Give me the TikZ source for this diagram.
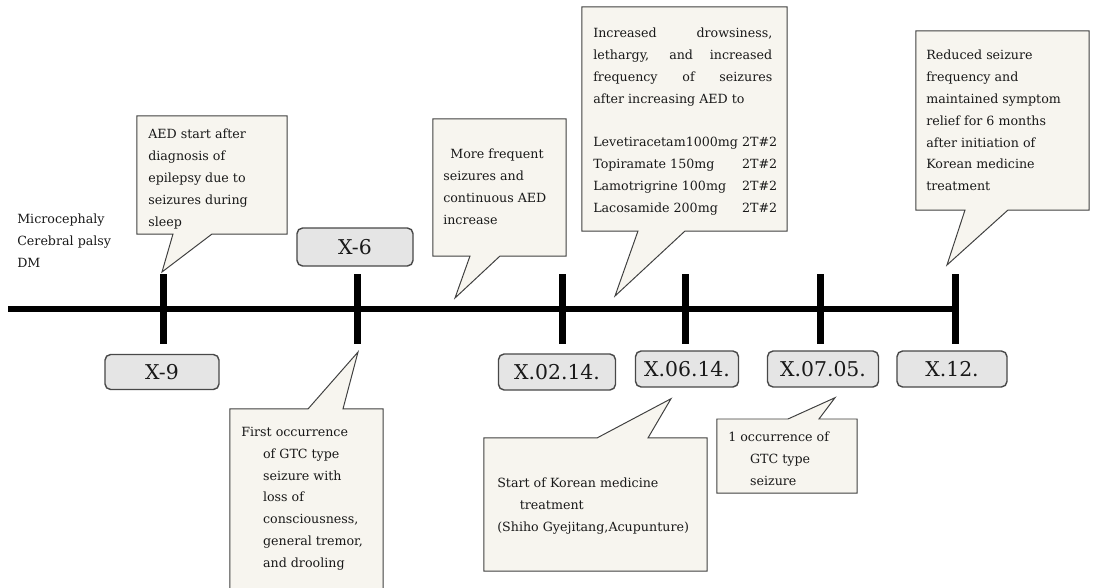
\documentclass[tikz,border=0pt]{standalone}
\usepackage{fontspec}
\setmainfont{DejaVu Serif}
\usetikzlibrary{calc}
\definecolor{notefill}{RGB}{247,245,239}
\definecolor{noteline}{RGB}{64,64,64}
\definecolor{datefill}{RGB}{229,229,229}
\definecolor{dateline}{RGB}{72,72,72}
\definecolor{ink}{RGB}{25,25,25}
\newcommand{\shiftin}{\hspace*{15.5pt}}

\begin{document}
\begin{tikzpicture}[x=0.025cm,y=-0.025cm,
  tickmark/.style={fill=black,inner sep=0pt,outer sep=0pt,minimum width=0.175cm,minimum height=1.75cm},
  datebox/.style={draw=dateline,fill=datefill,rounded corners=4pt,line width=1pt,inner sep=0pt,text=ink,font=\fontsize{14.5}{16}\selectfont},
  calloutarea/.style={inner sep=0pt,outer sep=0pt},
  notebox/.style={draw=noteline,fill=notefill,line width=0.7pt},
  notetext/.style={anchor=north west,align=left,inner sep=0pt,text=ink,font=\fontsize{9}{15.5}\selectfont}]
  \useasboundingbox (0,0) rectangle (1094,587);
  % time axis
  \node[tickmark] (t1) at (163,309) {};
  \node[tickmark] (t2) at (357,309) {};
  \node[tickmark] (t3) at (562,309) {};
  \node[tickmark] (t4) at (685,309) {};
  \node[tickmark] (t5) at (820,309) {};
  \node[tickmark] (t6) at (955,309) {};
  \coordinate (axstart) at (8,309);
  \draw[line width=4.3pt] (axstart) -- (t6.east);
  % dates
  \node[datebox,minimum width=2.85cm,minimum height=0.875cm] (d1) at (162,372) {X-9};
  \node[datebox,minimum width=2.9cm,minimum height=0.95cm] (d2) at (355,247) {X-6};
  \node[datebox,minimum width=2.925cm,minimum height=0.9cm] (d3) at (557,372) {X.02.14.};
  \node[datebox,minimum width=2.575cm,minimum height=0.9cm] (d4) at (687,369) {X.06.14.};
  \node[datebox,minimum width=2.775cm,minimum height=0.9cm] (d5) at (823,369) {X.07.05.};
  \node[datebox,minimum width=2.75cm,minimum height=0.9cm] (d6) at (952,369) {X.12.};
  % callout areas
  \node[calloutarea,minimum width=3.75cm,minimum height=2.95cm] (c1) at (212,175) {};
  \node[calloutarea,minimum width=3.325cm,minimum height=3.425cm] (c2) at (499.5,187.5) {};
  \node[calloutarea,minimum width=5.125cm,minimum height=5.6cm] (c3) at (684.5,119) {};
  \node[calloutarea,minimum width=4.325cm,minimum height=4.475cm] (c4) at (1002.5,120.5) {};
  \node[calloutarea,minimum width=3.825cm,minimum height=4.775cm] (c5) at (306.5,504.5) {};
  \node[calloutarea,minimum width=5.575cm,minimum height=3.325cm] (c6) at (595.5,504.5) {};
  \node[calloutarea,minimum width=3.5cm,minimum height=1.85cm] (c7) at (787,456) {};
  \coordinate (tp1) at ($(t1.north)+(-1,-2)$);
  \coordinate (tp2) at (455,298);
  \coordinate (tp3) at (615,296);
  \coordinate (tp4) at ($(t6.north)+(-8,-9)$);
  \coordinate (tp5) at ($(t2.south)+(1,8)$);
  \coordinate (tp6) at ($(d4.south)+(-16,11)$);
  \coordinate (tp7) at ($(d5.south)+(12,10)$);
  \foreach \nd/\lft/\rgt/\tip in {c1/36/75/tp1,c2/37/67/tp2,c3/56/103/tp3,c4/49/92/tp4}{
    \draw[notebox] (\nd.north west) -- (\nd.north east) -- (\nd.south east) -- ($(\nd.south west)+(\rgt,0)$)
      -- (\tip) -- ($(\nd.south west)+(\lft,0)$) -- (\nd.south west) -- cycle;}
  \foreach \nd/\lft/\rgt/\tip in {c5/78/113/tp5,c6/113/164/tp6,c7/71/102/tp7}{
    \draw[notebox] (\nd.south west) -- (\nd.north west) -- ($(\nd.north west)+(\lft,0)$) -- (\tip)
      -- ($(\nd.north west)+(\rgt,0)$) -- (\nd.north east) -- (\nd.south east) -- cycle;}
  % texts
  \node[notetext] (info) at (17,214) {Microcephaly\\Cerebral palsy\\DM};
  \node[notetext] (ct1) at (148,129) {AED start after\\diagnosis of\\epilepsy due to\\seizures during\\sleep};
  \node[notetext] (ct2) at (443,149) {\hspace*{5pt}More frequent\\seizures and\\continuous AED\\increase};
  \node[notetext] (ct3) at (593,28) {\makebox[4.475cm][s]{Increased drowsiness,}\\
    \makebox[4.475cm][s]{lethargy, and increased}\\
    \makebox[4.475cm][s]{frequency of seizures}\\
    after increasing AED to\\[15.5pt]
    \makebox[3.72cm][l]{Levetiracetam1000mg}2T\#2\\
    \makebox[3.72cm][l]{Topiramate 150mg}2T\#2\\
    \makebox[3.72cm][l]{Lamotrigrine 100mg}2T\#2\\
    \makebox[3.72cm][l]{Lacosamide 200mg}2T\#2};
  \node[notetext] (ct4) at (926,50) {Reduced seizure\\frequency and\\maintained symptom\\relief for 6 months\\after initiation of\\Korean medicine\\treatment};
  \node[notetext] (ct5) at (241,427) {First occurrence\\\shiftin of GTC type\\\shiftin seizure with\\\shiftin loss of\\\shiftin consciousness,\\\shiftin general tremor,\\\shiftin and drooling};
  \node[notetext] (ct6) at (497,478) {Start of Korean medicine\\\hspace*{16pt}treatment\\(Shiho Gyejitang,Acupunture)};
  \node[notetext] (ct7) at (728,432) {1 occurrence of\\\shiftin GTC type\\\shiftin seizure};
\end{tikzpicture}
\end{document}
